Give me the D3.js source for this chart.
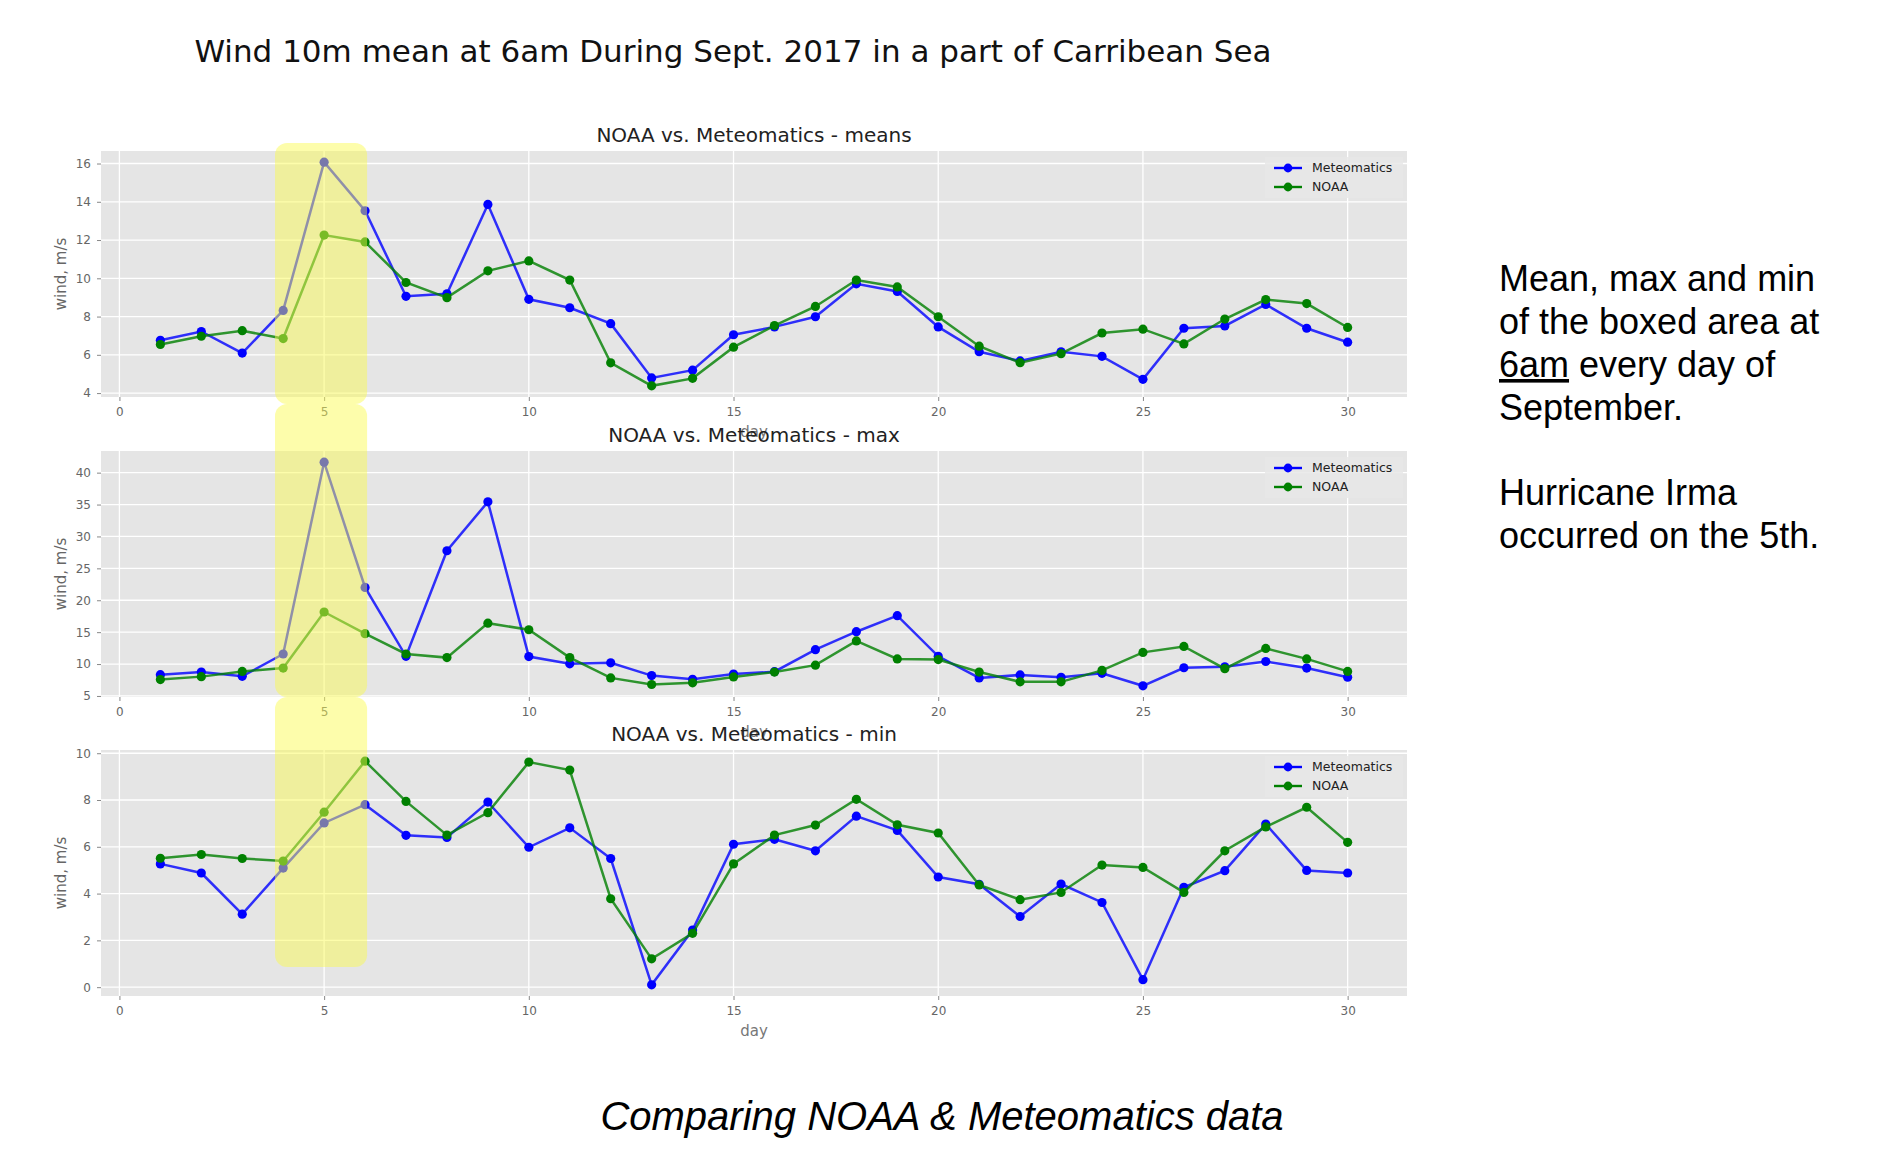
<!DOCTYPE html>
<html>
<head>
<meta charset="utf-8">
<script src="https://cdn.jsdelivr.net/npm/d3@7"></script>
<style>
  body { margin: 0; background: #fff; }
  svg { display: block; }
</style>
</head>
<body>
<script>
// days of September 2017
var days = [1,2,3,4,5,6,7,8,9,10,11,12,13,14,15,16,17,18,19,20,21,22,23,24,25,26,27,28,29,30];

// wind 10m at 6am, m/s
var meteoMean = [6.76,7.22,6.09,8.32,16.07,13.53,9.06,9.19,13.86,8.90,8.46,7.63,4.79,5.20,7.05,7.46,7.99,9.71,9.31,7.46,6.16,5.68,6.16,5.92,4.72,7.39,7.51,8.63,7.39,6.66];
var noaaMean  = [6.54,6.97,7.26,6.85,12.26,11.90,9.78,8.99,10.39,10.91,9.91,5.58,4.38,4.77,6.40,7.53,8.53,9.91,9.55,7.99,6.45,5.59,6.06,7.14,7.34,6.57,7.87,8.89,8.68,7.43];
var meteoMax  = [8.34,8.75,8.08,11.58,41.64,22.01,11.22,27.76,35.42,11.17,10.04,10.19,8.19,7.62,8.44,8.80,12.25,15.07,17.59,11.22,7.83,8.29,7.93,8.55,6.59,9.42,9.57,10.40,9.37,7.93];
var noaaMax   = [7.57,8.03,8.85,9.37,18.16,14.76,11.58,11.01,16.41,15.38,11.01,7.83,6.80,7.06,7.98,8.75,9.83,13.63,10.81,10.70,8.75,7.21,7.21,9.01,11.83,12.76,9.27,12.45,10.81,8.85];
var meteoMin  = [5.27,4.88,3.12,5.09,7.02,7.80,6.49,6.40,7.91,5.98,6.81,5.50,0.10,2.44,6.11,6.32,5.83,7.31,6.70,4.71,4.40,3.02,4.41,3.62,0.32,4.27,4.98,6.97,4.99,4.88];
var noaaMin   = [5.51,5.67,5.50,5.39,7.48,9.66,7.94,6.50,7.46,9.62,9.28,3.78,1.21,2.30,5.27,6.50,6.93,8.03,6.94,6.59,4.37,3.74,4.05,5.22,5.12,4.05,5.83,6.85,7.69,6.19];

// tick labels
var xTicks    = [0,5,10,15,20,25,30];
var meanTicks = [4,6,8,10,12,14,16];
var maxTicks  = [5,10,15,20,25,30,35,40];
var minTicks  = [0,2,4,6,8,10];

var seriesNames  = ["Meteomatics", "NOAA"];
var seriesColors = ["#0000ff", "#008000"];

var W = 1878, H = 1168;
var left = 101, right = 1407, plotH = 246;

var svg = d3.select("body").append("svg")
    .attr("width", W)
    .attr("height", H);

// matplotlib style autoscale: 5% margin each side
function padded(ext) {
    var m = (ext[1] - ext[0]) * 0.05;
    return [ext[0] - m, ext[1] + m];
}

var x = d3.scaleLinear()
    .domain(padded(d3.extent(days)))
    .range([left, right]);

var panels = [
    {title: "NOAA vs. Meteomatics - means", meteo: meteoMean, noaa: noaaMean, ticks: meanTicks, top: 151},
    {title: "NOAA vs. Meteomatics - max",   meteo: meteoMax,  noaa: noaaMax,  ticks: maxTicks,  top: 451},
    {title: "NOAA vs. Meteomatics - min",   meteo: meteoMin,  noaa: noaaMin,  ticks: minTicks,  top: 750}
];

var chartFont = "'DejaVu Sans', sans-serif";

panels.forEach(function(p) {
    var bottom = p.top + plotH;
    var y = d3.scaleLinear()
        .domain(padded(d3.extent(p.meteo.concat(p.noaa))))
        .range([bottom, p.top]);

    var g = svg.append("g");

    g.append("rect")
        .attr("x", left).attr("y", p.top)
        .attr("width", right - left).attr("height", plotH)
        .attr("fill", "#e5e5e5");

    // grid
    g.selectAll(".gx").data(xTicks).enter().append("line")
        .attr("x1", function(d) { return x(d); })
        .attr("x2", function(d) { return x(d); })
        .attr("y1", p.top).attr("y2", bottom)
        .attr("stroke", "#fff").attr("stroke-width", 1.3);
    g.selectAll(".gy").data(p.ticks).enter().append("line")
        .attr("x1", left).attr("x2", right)
        .attr("y1", function(d) { return y(d); })
        .attr("y2", function(d) { return y(d); })
        .attr("stroke", "#fff").attr("stroke-width", 1.3);

    // axes
    var ya = g.append("g")
        .attr("transform", "translate(" + left + ",0)")
        .call(d3.axisLeft(y).tickValues(p.ticks).tickSize(4).tickPadding(6));
    var xa = g.append("g")
        .attr("transform", "translate(0," + bottom + ")")
        .call(d3.axisBottom(x).tickValues(xTicks).tickSize(4).tickPadding(6));
    [ya, xa].forEach(function(a) {
        a.select(".domain").remove();
        a.selectAll("line").attr("stroke", "#888");
        a.selectAll("text")
            .attr("fill", "#666")
            .attr("font-family", chartFont)
            .attr("font-size", "12px");
    });

    // labels
    g.append("text")
        .attr("transform", "translate(61," + (p.top + plotH / 2) + ") rotate(-90)")
        .attr("text-anchor", "middle")
        .attr("dy", "0.35em")
        .attr("font-family", chartFont)
        .attr("font-size", "15px")
        .attr("fill", "#666")
        .text("wind, m/s");
    // x label sits under the next subplot's title, as in the original figure
    g.append("text")
        .attr("x", (left + right) / 2)
        .attr("y", bottom + 40)
        .attr("text-anchor", "middle")
        .attr("font-family", chartFont)
        .attr("font-size", "15px")
        .attr("fill", "#777")
        .text("day");

    // series
    [p.meteo, p.noaa].forEach(function(vals, i) {
        var line = d3.line()
            .x(function(d, j) { return x(days[j]); })
            .y(function(d) { return y(d); });
        g.append("path")
            .datum(vals)
            .attr("d", line)
            .attr("fill", "none")
            .attr("stroke", seriesColors[i])
            .attr("stroke-width", 2.5)
            .attr("stroke-opacity", 0.8);
        g.selectAll(".pt" + i).data(vals).enter().append("circle")
            .attr("cx", function(d, j) { return x(days[j]); })
            .attr("cy", function(d) { return y(d); })
            .attr("r", 4.6)
            .attr("fill", seriesColors[i]);
    });

    // legend
    var lg = g.append("g");
    lg.append("rect")
        .attr("x", 1265).attr("y", p.top + 6)
        .attr("width", 138).attr("height", 41)
        .attr("fill", "#e8e8e8").attr("opacity", 0.85);
    seriesNames.forEach(function(name, i) {
        var ry = p.top + 17 + i * 19;
        lg.append("line")
            .attr("x1", 1274).attr("x2", 1302)
            .attr("y1", ry).attr("y2", ry)
            .attr("stroke", seriesColors[i]).attr("stroke-width", 2.4);
        lg.append("circle")
            .attr("cx", 1288).attr("cy", ry).attr("r", 4.4)
            .attr("fill", seriesColors[i]);
        lg.append("text")
            .attr("x", 1312).attr("y", ry)
            .attr("dy", "0.35em")
            .attr("font-family", chartFont)
            .attr("font-size", "12.5px")
            .attr("fill", "#222")
            .text(name);
    });

    // subplot title
    g.append("text")
        .attr("x", (left + right) / 2)
        .attr("y", p.top - 9)
        .attr("text-anchor", "middle")
        .attr("font-family", chartFont)
        .attr("font-size", "20px")
        .attr("fill", "#222")
        .text(p.title);
});

// Irma highlight around day 5, drawn on top of all three panels
var hlFrom = 3.8, hlTo = 6.05;
var hlBands = [[143, 404], [404, 697], [697, 967]];
svg.append("g").selectAll("rect").data(hlBands).enter().append("rect")
    .attr("x", x(hlFrom))
    .attr("width", x(hlTo) - x(hlFrom))
    .attr("y", function(d) { return d[0]; })
    .attr("height", function(d) { return d[1] - d[0]; })
    .attr("rx", 12).attr("ry", 12)
    .attr("fill", "#fafa50")
    .attr("opacity", 0.48);

// figure title
svg.append("text")
    .attr("x", 733).attr("y", 62)
    .attr("text-anchor", "middle")
    .attr("font-family", chartFont)
    .attr("font-size", "31px")
    .attr("fill", "#111")
    .text("Wind 10m mean at 6am During Sept. 2017 in a part of Carribean Sea");

// side note
var noteFont = "'Liberation Sans', Arial, sans-serif";
var note = svg.append("g")
    .attr("font-family", noteFont)
    .attr("font-size", "36px")
    .attr("fill", "#000");
note.append("text").attr("x", 1499).attr("y", 291).text("Mean, max and min");
note.append("text").attr("x", 1499).attr("y", 334).text("of the boxed area at");
var l3 = note.append("text").attr("x", 1499).attr("y", 377);
l3.append("tspan").attr("text-decoration", "underline").text("6am");
l3.append("tspan").text(" every day of");
note.append("text").attr("x", 1499).attr("y", 420).text("September.");
note.append("text").attr("x", 1499).attr("y", 505).text("Hurricane Irma");
note.append("text").attr("x", 1499).attr("y", 548).text("occurred on the 5th.");

// caption
svg.append("text")
    .attr("x", 942).attr("y", 1130)
    .attr("text-anchor", "middle")
    .attr("font-family", noteFont)
    .attr("font-style", "italic")
    .attr("font-size", "40px")
    .attr("fill", "#000")
    .text("Comparing NOAA & Meteomatics data");
</script>
</body>
</html>
